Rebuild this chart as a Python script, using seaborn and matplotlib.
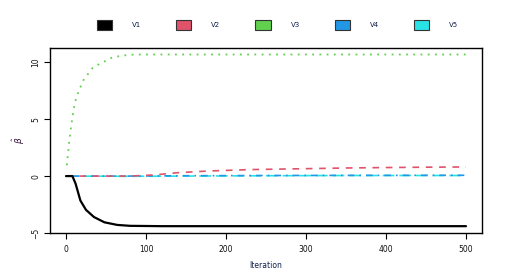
import numpy as np
import pandas as pd
import matplotlib
matplotlib.use("Agg")
import matplotlib.pyplot as plt
import seaborn as sns
from matplotlib.patches import Patch

# ---- data ----
series_names = ["V1", "V2", "V3", "V4", "V5"]
colors = ["#000000", "#DF536B", "#61D04F", "#2297E6", "#28E2E5"]

v1_iter = [0, 8, 12, 18, 25, 35, 48, 64, 80, 120, 500]
v1_vals = [0.0, 0.0, -0.67, -2.15, -2.97, -3.6, -4.06, -4.29, -4.37, -4.4, -4.4]

v2_iter = [0, 80, 110, 140, 180, 230, 300, 350, 400, 450, 500]
v2_vals = [0.0, 0.0, 0.1, 0.3, 0.45, 0.57, 0.65, 0.71, 0.75, 0.78, 0.8]

v3_iter = [1, 2, 3, 4, 5, 6, 7, 8, 9, 10, 11, 13, 15, 17, 20, 22, 25, 29, 33, 40, 46,
           52, 58, 65, 73, 81, 90, 500]
v3_vals = [0.95, 1.62, 2.27, 3.0, 3.6, 4.15, 4.68, 5.1, 5.6, 6.0, 6.4, 6.9, 7.3, 7.7,
           8.07, 8.45, 8.75, 9.1, 9.48, 9.78, 9.98, 10.22, 10.42, 10.51, 10.6, 10.66,
           10.68, 10.68]

v4_iter = [0, 80, 150, 250, 350, 500]
v4_vals = [0.0, 0.0, 0.03, 0.05, 0.06, 0.07]

v5_iter = [0, 80, 150, 250, 350, 500]
v5_vals = [0.0, -0.02, 0.0, 0.03, 0.05, 0.05]

x_ticks = [0, 100, 200, 300, 400, 500]
y_ticks = [-5, 0, 5, 10]

iters = [v1_iter, v2_iter, v3_iter, v4_iter, v5_iter]
vals = [v1_vals, v2_vals, v3_vals, v4_vals, v5_vals]
df = pd.concat([pd.DataFrame({"Iteration": i, "value": v, "series": n})
                for i, v, n in zip(iters, vals, series_names)], ignore_index=True)

dash_styles = {"V1": (None, None), "V2": (4, 4), "V3": (1, 3), "V4": (1, 3, 4, 3), "V5": (7, 3)}
widths = {"V1": 1.6, "V2": 1.2, "V3": 1.3, "V4": 1.2, "V5": 1.2}

sns.set_style("white")
plt.rcParams["font.family"] = ["DejaVu Sans"]

fig = plt.figure(figsize=(5.13, 2.80), dpi=100)
ax = fig.add_axes([50 / 513, 1 - 233 / 280, (482 - 50) / 513, (233 - 48) / 280])

# draw later series first so V1 ends on top like the reference
for name, col in zip(series_names[::-1], colors[::-1]):
    sub = df[df["series"] == name]
    sns.lineplot(data=sub, x="Iteration", y="value", ax=ax, color=col,
                 linewidth=widths[name], estimator=None, sort=False)
    line = ax.get_lines()[-1]
    d = dash_styles[name]
    if d[0] is None:
        line.set_linestyle("-")
    else:
        line.set_dashes(d)

ax.set_xlim(-20, 520)
ax.set_ylim(-5.0, 11.25)
ax.set_xticks(x_ticks)
ax.set_yticks(y_ticks)
ax.tick_params(axis="both", direction="out", length=4, width=0.8, labelsize=5.5,
               color="black", labelcolor="#111111", bottom=True, left=True, pad=5)
ax.tick_params(axis="y", pad=3)
for lab in ax.get_yticklabels():
    lab.set_rotation(90)
    lab.set_va("center")
for s in ax.spines.values():
    s.set_visible(True)
    s.set_color("black")
    s.set_linewidth(1.0)

ax.set_xlabel("Iteration", fontsize=5.5, color="#10204a", labelpad=5)
ax.set_ylabel(r"$\hat{\beta}$", fontsize=6.5, color="#3a1040", labelpad=3)

handles = [Patch(facecolor=c, edgecolor="#333333", linewidth=0.8) for c in colors]
fig.legend(handles, series_names, loc="center", bbox_to_anchor=(0.541, 1 - 25 / 280),
           ncol=5, frameon=False, fontsize=5, handlelength=2.2, handleheight=1.75,
           handletextpad=2.9, columnspacing=5.0, labelcolor="#10204a")

fig.savefig("out.png", dpi=100)
